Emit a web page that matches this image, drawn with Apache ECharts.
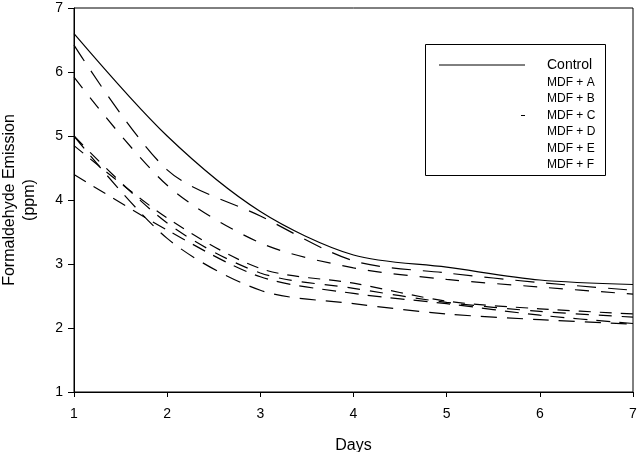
<!DOCTYPE html>
<html lang="en">
<head>
    <meta charset="UTF-8">
    <title>Formaldehyde Emission</title>
    <script src="https://cdn.jsdelivr.net/npm/echarts@6/dist/echarts.min.js"></script>
    <style>
        html, body { margin: 0; padding: 0; background: #fff; }
        #main { width: 642px; height: 452px; }
    </style>
</head>
<body>
    <div id="main"></div>
    <script>
        // data
        const days = [1, 2, 3, 4, 5, 6, 7];
        const control = [6.6, 5.0, 3.82, 3.14, 2.95, 2.75, 2.68];
        const mdfA = [6.42, 4.47, 3.75, 3.05, 2.86, 2.71, 2.59];
        const mdfB = [5.92, 4.23, 3.33, 2.94, 2.76, 2.64, 2.53];
        const mdfC = [4.85, 3.72, 2.93, 2.70, 2.42, 2.30, 2.22];
        const mdfD = [5.0, 3.64, 2.86, 2.62, 2.40, 2.26, 2.17];
        const mdfE = [4.4, 3.53, 2.80, 2.54, 2.38, 2.20, 2.07];
        const mdfF = [5.0, 3.40, 2.59, 2.38, 2.22, 2.13, 2.06];
        const yTicks = [1, 2, 3, 4, 5, 6, 7];

        const font = 'Liberation Sans, Arial, sans-serif';

        function pairs(vals) {
            return days.map((d, i) => [d, vals[i]]);
        }

        function line(name, vals, dash) {
            return {
                name: name,
                type: 'line',
                data: pairs(vals),
                smooth: 0.3,
                symbol: 'none',
                lineStyle: { color: '#000', width: 1.2, type: dash },
                emphasis: { disabled: true }
            };
        }

        const hidden = { opacity: 0 };

        const chart = echarts.init(document.getElementById('main'));
        chart.setOption({
            animation: false,
            backgroundColor: '#fff',
            textStyle: { fontFamily: font },
            grid: {
                left: 74, right: 9, top: 8, bottom: 60,
                outerBoundsMode: 'none', containLabel: false,
                show: true, borderColor: '#000', borderWidth: 1
            },
            xAxis: {
                type: 'value', min: 1, max: 7, interval: 1,
                name: 'Days', nameLocation: 'middle', nameGap: 46,
                nameTextStyle: { fontSize: 16, color: '#000', fontFamily: font },
                axisLine: { lineStyle: { color: '#000', width: 1 } },
                axisTick: { length: 5, lineStyle: { color: '#000' } },
                axisLabel: { margin: 15, fontSize: 14, color: '#000', fontFamily: font },
                splitLine: { show: false }
            },
            yAxis: {
                type: 'value', min: yTicks[0], max: yTicks[yTicks.length - 1], interval: 1,
                name: 'Formaldehyde Emission\n(ppm)', nameLocation: 'middle', nameRotate: 90, nameGap: 34,
                nameTextStyle: { fontSize: 16, lineHeight: 20, color: '#000', fontFamily: font },
                axisLine: { show: true, lineStyle: { color: '#000', width: 1 } },
                axisTick: { show: true, length: 6, lineStyle: { color: '#000' } },
                axisLabel: { margin: 11, fontSize: 14, color: '#000', fontFamily: font },
                splitLine: { show: false }
            },
            legend: {
                orient: 'vertical', left: 433, top: 53,
                itemWidth: 86, itemHeight: 12, itemGap: 4.5,
                selectedMode: false,
                itemStyle: hidden,
                textStyle: { fontSize: 12, lineHeight: 12, color: '#000', fontFamily: font, padding: [0, 0, 0, 17] },
                data: [
                    { name: 'Control', textStyle: { fontSize: 14 }, lineStyle: { width: 1 } },
                    { name: 'MDF + A', lineStyle: hidden },
                    { name: 'MDF + B', lineStyle: hidden },
                    { name: 'MDF + C', lineStyle: { type: [0, 82, 4, 60], width: 1 } },
                    { name: 'MDF + D', lineStyle: hidden },
                    { name: 'MDF + E', lineStyle: hidden },
                    { name: 'MDF + F', lineStyle: hidden }
                ]
            },
            graphic: [{
                type: 'rect', left: 423, top: 42, z: 0,
                shape: { width: 180, height: 131 },
                style: { fill: null, stroke: '#000', lineWidth: 1 }
            }],
            series: [
                line('Control', control, 'solid'),
                line('MDF + A', mdfA, [19, 12]),
                line('MDF + B', mdfB, [14, 12]),
                line('MDF + C', mdfC, [12, 9]),
                line('MDF + D', mdfD, [13, 10]),
                line('MDF + E', mdfE, [14, 9]),
                line('MDF + F', mdfF, [16, 10])
            ]
        });
    </script>
</body>
</html>
